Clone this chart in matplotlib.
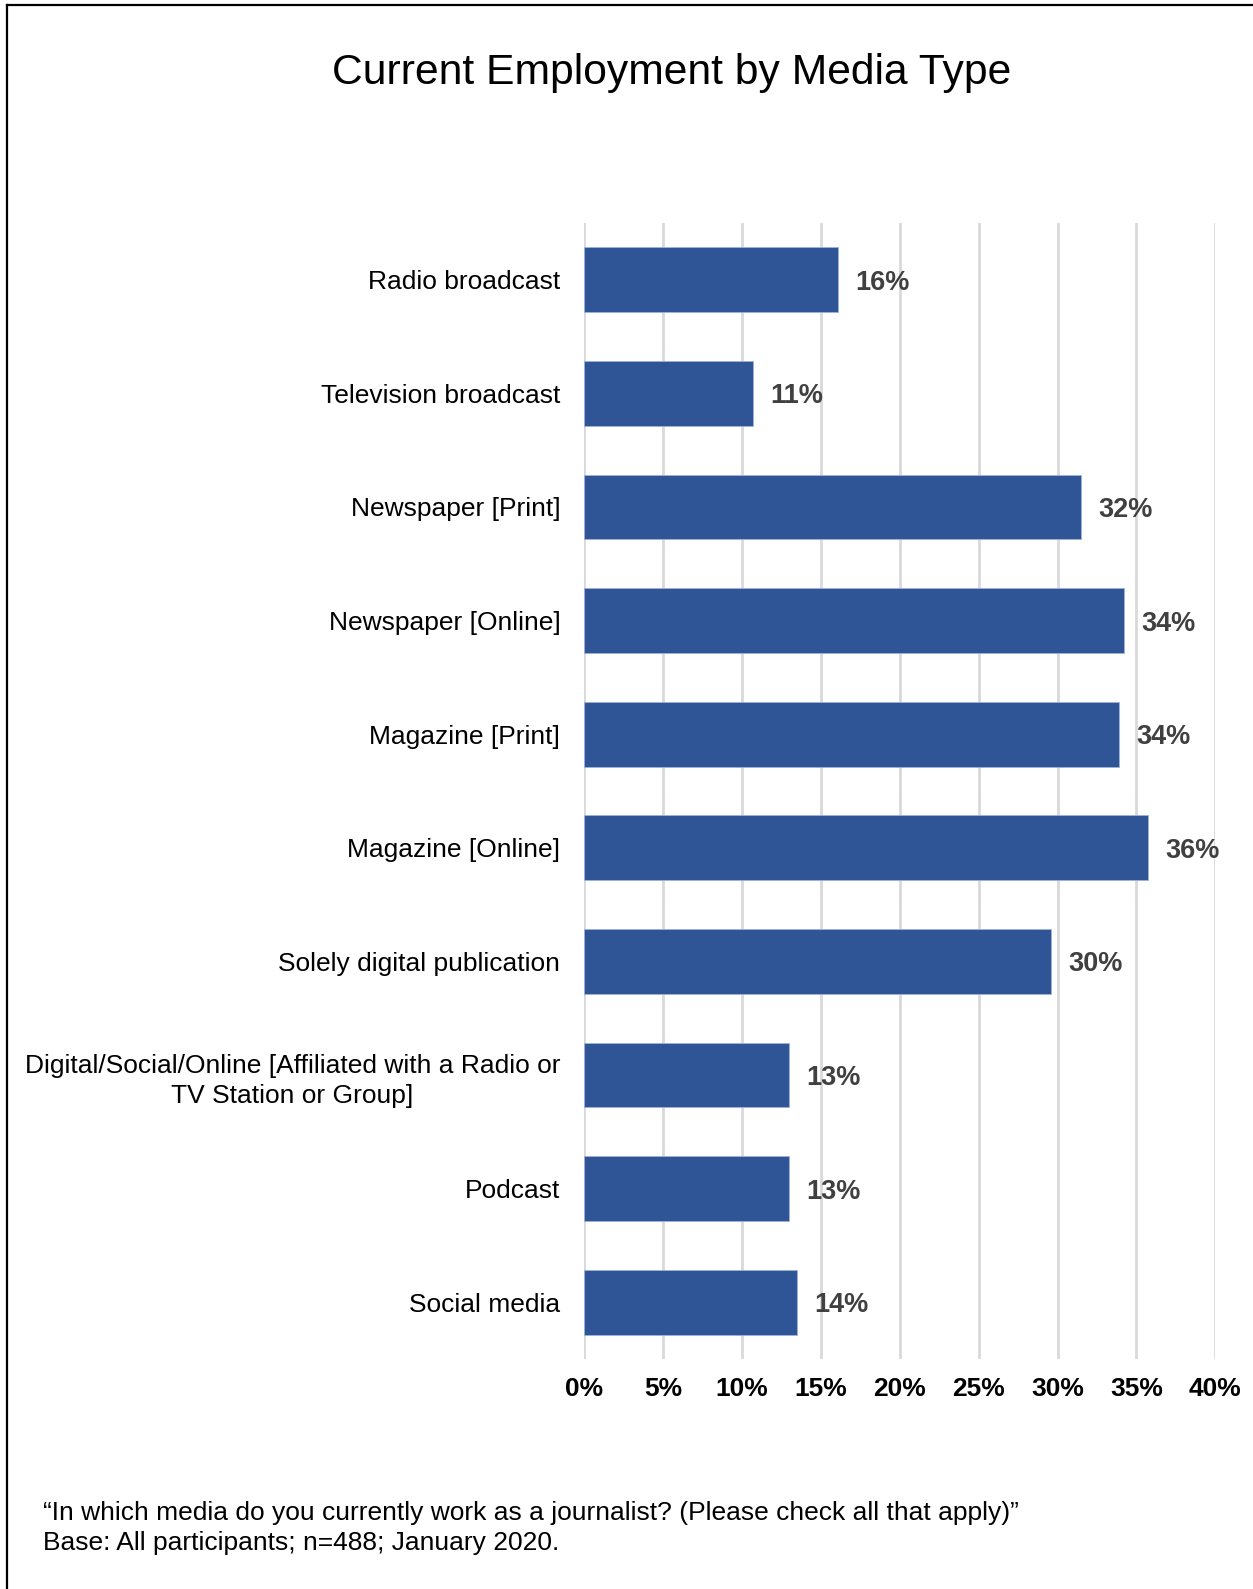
import matplotlib.pyplot as plt
from matplotlib.lines import Line2D
import numpy as np

plt.rcParams['font.family'] = ['Liberation Sans', 'DejaVu Sans']

categories = ['Radio broadcast', 'Television broadcast', 'Newspaper [Print]',
              'Newspaper [Online]', 'Magazine [Print]', 'Magazine [Online]',
              'Solely digital publication',
              'Digital/Social/Online [Affiliated with a Radio or\nTV Station or Group]',
              'Podcast', 'Social media']
shares = [16.1, 10.7, 31.5, 34.2, 33.9, 35.7, 29.6, 13.0, 13.0, 13.5]
xticks = [0, 5, 10, 15, 20, 25, 30, 35, 40]

fig = plt.figure(figsize=(12.53, 15.89), dpi=100)
ax = fig.add_axes([0.466, 0.1447, 0.504, 0.7150])

y = np.arange(len(categories))
ax.barh(y, shares, height=0.57, color='#2F5597', edgecolor='#9DB3DA',
        linewidth=0.6, zorder=3)
for yi, v in zip(y, shares):
    ax.text(v + 1.1, yi, f'{v:.0f}%', va='center_baseline', ha='left',
            fontsize=19.5, fontweight='bold', color='#404040')

ax.set_ylim(len(categories) - 0.5, -0.5)
ax.set_xlim(0, 40)
ax.set_yticks(y)
ax.set_yticklabels(categories, fontsize=19)
for lbl in ax.get_yticklabels():
    lbl.set_multialignment('center')
    lbl.set_linespacing(1.35)
ax.set_xticks(xticks)
ax.set_xticklabels([f'{t}%' for t in xticks], fontsize=19, fontweight='bold')
ax.tick_params(axis='y', length=0, pad=17)
ax.tick_params(axis='x', length=0, pad=13)
ax.grid(axis='x', color='#D9D9D9', linewidth=2, zorder=0)
for s in ax.spines.values():
    s.set_visible(False)

fig.text(0.536, 0.954, 'Current Employment by Media Type', ha='center',
         va='center', fontsize=30.7)
fig.text(0.034, 0.048, '\u201cIn which media do you currently work as a journalist? '
         '(Please check all that apply)\u201d', fontsize=19, va='center')
fig.text(0.034, 0.029, 'Base: All participants; n=488; January 2020.',
         fontsize=19, va='center')

# frame lines along the top and left edges
fig.add_artist(Line2D([0.0056, 1.0], [0.9968, 0.9968], color='black', lw=1.6))
fig.add_artist(Line2D([0.0056, 0.0056], [0.0, 0.9968], color='black', lw=1.6))

fig.savefig('out.png', dpi=100)
